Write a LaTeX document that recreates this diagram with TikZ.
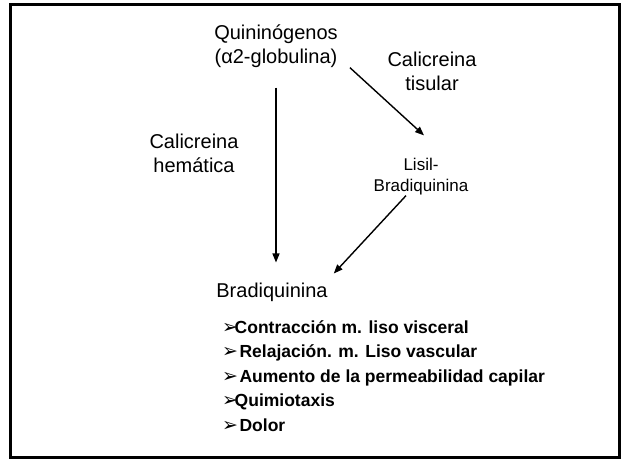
\documentclass[tikz,border=0pt]{standalone}
\usepackage{fontspec}
\setmainfont{Liberation Sans}
\newfontfamily\symfont{DejaVu Sans}
\usetikzlibrary{arrows.meta,positioning}
\newcommand{\bul}{\makebox[12.5pt][l]{\symfont\fontsize{19}{19}\selectfont ➢}}

\begin{document}
\begin{tikzpicture}[x=1pt,y=-1pt,
  lbl/.style={inner sep=0pt,align=center,font=\fontsize{20}{24}\selectfont},
  lblsm/.style={inner sep=0pt,align=center,font=\fontsize{17}{21}\selectfont},
  item/.style={inner sep=0pt,anchor=base west,font=\fontsize{17.5}{21}\selectfont\bfseries},
  arr/.style={-{Triangle[length=9pt,width=7pt]},line width=1.4pt}]
  \useasboundingbox (0,0) rectangle (623,459);
  % Frame
  \draw[line width=3pt] (10.7,4.2) rectangle (619,457.7);

  % Precursor, enzymes and products
  \node[lbl] (quin) at (276,46) {Quininógenos\\(α2-globulina)};
  \node[lbl] (tis) at (432,71) {Calicreina\\tisular};
  \node[lbl] (hem) at (194,153) {Calicreina\\hemática};
  \node[lblsm] (lisil) at (421,177) {Lisil-\\Bradiquinina};
  \node[lbl] (brad) at (272,292) {Bradiquinina};

  % Pathways
  \draw[arr,shorten <=20pt,shorten >=20pt] (quin.south) -- (quin.south |- brad.north);
  \draw[arr] ([xshift=12pt]quin.south east) -- ([xshift=3pt,yshift=23pt]lisil.north);
  \draw[arr] ([xshift=-15pt]lisil.south) -- ([xshift=6pt,yshift=9pt]brad.north east);

  % Effects
  \foreach \txt [count=\i] in {{\bul Contracción m. liso visceral},
      {\bul\ Relajación. m. Liso vascular},
      {\bul\ Aumento de la permeabilidad capilar},
      {\bul Quimiotaxis},
      {\bul\ Dolor}}
    \node[item] (b\i) at (222,{308.5+24.5*\i}) {\txt};
\end{tikzpicture}
\end{document}
